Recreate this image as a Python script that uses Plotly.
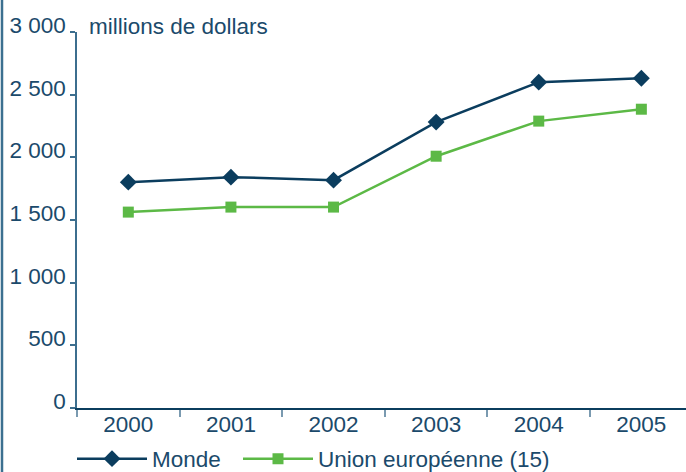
import plotly.graph_objects as go

years = ['2000', '2001', '2002', '2003', '2004', '2005']
monde = [1802, 1842, 1818, 2281, 2600, 2631]
ue15 = [1563, 1603, 1603, 2009, 2289, 2384]
y_ticks = [0, 500, 1000, 1500, 2000, 2500, 3000]
y_labels = ['0', '500', '1 000', '1 500', '2 000', '2 500', '3 000']

BLUE = '#0b3d5e'
GREEN = '#5cb946'
TEXT = '#1b4a6b'
FONT = 'Liberation Sans, Arial, sans-serif'
FS = 22.5

W, H = 686, 472
ML, MT, MB = 77, 32, 64
plot_w = W - ML
plot_h = H - MT - MB

fig = go.Figure()
fig.add_trace(go.Scatter(
    x=years, y=monde, name='Monde', mode='lines+markers',
    line=dict(color=BLUE, width=2.5),
    marker=dict(symbol='diamond', size=13, color=BLUE),
    legend='legend',
))
fig.add_trace(go.Scatter(
    x=years, y=ue15, name='Union européenne (15)', mode='lines+markers',
    line=dict(color=GREEN, width=2.5),
    marker=dict(symbol='square', size=11, color=GREEN),
    legend='legend2',
))

leg = dict(
    orientation='h', xanchor='left', xref='container', yref='container',
    y=(H - 459) / H, yanchor='middle',
    itemwidth=70, font=dict(size=FS, color=TEXT), bgcolor='rgba(0,0,0,0)',
    itemclick=False,
)

fig.update_layout(
    width=W, height=H,
    margin=dict(l=ML, r=0, t=MT, b=MB, autoexpand=False),
    paper_bgcolor='white', plot_bgcolor='white',
    font=dict(family=FONT, size=FS, color=TEXT),
    showlegend=True,
    legend=dict(leg, x=72 / W),
    legend2=dict(leg, x=238 / W),
    xaxis=dict(
        type='category', range=[-0.5, 5.435], automargin=False,
        showgrid=False, zeroline=False,
        showline=True, linecolor=BLUE, linewidth=1.5,
        ticks='outside', tickson='boundaries', ticklen=7,
        tickcolor='#7a9ab0', tickwidth=1.5, ticklabelstandoff=-5,
        tickfont=dict(size=FS, color=TEXT),
    ),
    yaxis=dict(
        range=[0, 3000], tickvals=y_ticks, ticktext=y_labels, automargin=False,
        showgrid=False, zeroline=False,
        showline=True, linecolor='#3c6e8e', linewidth=1.5,
        ticks='outside', ticklen=5, tickcolor='#3c6e8e', tickwidth=1.5,
        ticklabelshift=-7, ticklabelstandoff=0,
        tickfont=dict(size=FS, color=TEXT),
    ),
    annotations=[dict(
        text='millions de dollars', xref='paper', yref='paper',
        x=(87 - ML) / plot_w, y=1.0, xanchor='left', yanchor='bottom',
        yshift=-9, showarrow=False, font=dict(size=FS, color=TEXT),
    )],
    shapes=[dict(
        type='line', xref='paper', yref='paper',
        x0=(2 - ML) / plot_w, x1=(2 - ML) / plot_w,
        y0=-MB / plot_h, y1=(H - MB) / plot_h,
        line=dict(color='#3c7090', width=2.5),
    )],
)

# pin the graph to the page corner (default body margin shifts it)
pin = ("document.body.style.margin='0';"
       "document.getElementById('{plot_id}').style.cssText+="
       "'position:fixed;top:0;left:0;';")
fig.write_html('out.html', config={'displayModeBar': False}, post_script=pin)
